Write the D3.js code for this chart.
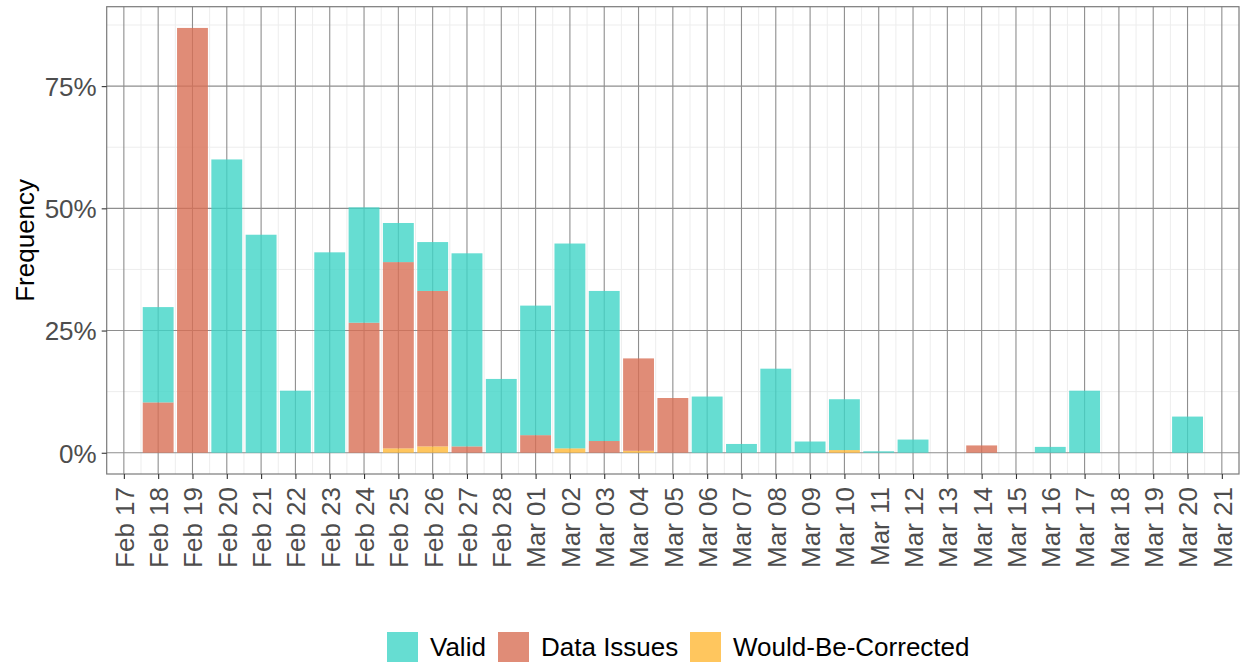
<!DOCTYPE html>
<html>
<head>
<meta charset="utf-8">
<script src="https://cdn.jsdelivr.net/npm/d3@7"></script>
<style>
  html, body { margin: 0; padding: 0; background: #fff; }
  svg { display: block; font-family: "Liberation Sans", Arial, Helvetica, sans-serif; }
</style>
</head>
<body>
<svg id="chart" width="1253" height="662"></svg>
<script>
// Daily share of records by status (percent), Feb 18 – Mar 20
const dates = [
  "2021-02-18","2021-02-19","2021-02-20","2021-02-21","2021-02-22","2021-02-23","2021-02-24",
  "2021-02-25","2021-02-26","2021-02-27","2021-02-28","2021-03-01","2021-03-02","2021-03-03",
  "2021-03-04","2021-03-05","2021-03-06","2021-03-07","2021-03-08","2021-03-09","2021-03-10",
  "2021-03-11","2021-03-12","2021-03-13","2021-03-14","2021-03-15","2021-03-16","2021-03-17",
  "2021-03-18","2021-03-19","2021-03-20"
];
const valid = [
  19.5, 0, 60.0, 44.6, 12.7, 41.0, 23.6,
  8.0, 10.0, 39.5, 15.1, 26.5, 41.9, 30.7,
  0, 0, 11.5, 1.8, 17.2, 2.3, 10.4,
  0.3, 2.7, 0, 0, 0, 1.2, 12.7,
  0, 0, 7.4
];
const dataIssues = [
  10.3, 86.9, 0, 0, 0, 0, 26.6,
  38.1, 31.8, 1.3, 0, 3.6, 0, 2.4,
  18.9, 11.2, 0, 0, 0, 0, 0,
  0, 0, 0, 1.5, 0, 0, 0,
  0, 0, 0
];
const wouldBeCorrected = [
  0, 0, 0, 0, 0, 0, 0,
  0.9, 1.3, 0, 0, 0, 0.9, 0,
  0.4, 0, 0, 0, 0, 0, 0.55,
  0, 0, 0, 0, 0, 0, 0,
  0, 0, 0
];
const seriesNames = ["Valid", "Data Issues", "Would-Be-Corrected"];
const seriesColors = ["#40d4c7", "#d86f55", "#ffb836"];
const yTicks = [0, 25, 50, 75];

const parse = d3.utcParse("%Y-%m-%d");
const rows = dates.map((d, i) => ({
  date: parse(d),
  "Valid": valid[i],
  "Data Issues": dataIssues[i],
  "Would-Be-Corrected": wouldBeCorrected[i]
}));

const svg = d3.select("#chart");
const panel = { left: 106.7, right: 1239, top: 6.7, bottom: 474 };

// x: one band per day, domain padded half a day around Feb 17 – Mar 21
const dayMs = 864e5;
const xStart = parse("2021-02-17"), xEnd = parse("2021-03-21");
const x = d3.scaleUtc()
  .domain([new Date(+xStart - dayMs / 2), new Date(+xEnd + dayMs / 2)])
  .range([panel.left, panel.right]);

// y: 5% expansion of the data range on both sides
const totals = rows.map(r => r["Valid"] + r["Data Issues"] + r["Would-Be-Corrected"]);
const yMax = d3.max(totals);
const pad = yMax * 0.05;
const y = d3.scaleLinear().domain([-pad, yMax + pad]).range([panel.bottom, panel.top]);

// grid
const grid = svg.append("g");
const days = d3.utcDay.range(xStart, new Date(+xEnd + 1));
const halfDays = days.slice(0, -1).map(d => new Date(+d + dayMs / 2));
const minorY = yTicks.map(t => t + 12.5);

grid.selectAll(".vminor").data(halfDays).join("line")
  .attr("x1", d => x(d)).attr("x2", d => x(d))
  .attr("y1", panel.top).attr("y2", panel.bottom)
  .attr("stroke", "#ededed").attr("stroke-width", 1);
grid.selectAll(".hminor").data(minorY).join("line")
  .attr("x1", panel.left).attr("x2", panel.right)
  .attr("y1", d => y(d)).attr("y2", d => y(d))
  .attr("stroke", "#ededed").attr("stroke-width", 1);
grid.selectAll(".vmajor").data(days).join("line")
  .attr("x1", d => x(d)).attr("x2", d => x(d))
  .attr("y1", panel.top).attr("y2", panel.bottom)
  .attr("stroke", "#8e8e8e").attr("stroke-width", 1.1);
grid.selectAll(".hmajor").data(yTicks).join("line")
  .attr("x1", panel.left).attr("x2", panel.right)
  .attr("y1", d => y(d)).attr("y2", d => y(d))
  .attr("stroke", "#8e8e8e").attr("stroke-width", 1.1);

// stacked bars: Would-Be-Corrected at the bottom, Valid on top
const stackKeys = ["Would-Be-Corrected", "Data Issues", "Valid"];
const stacked = d3.stack().keys(stackKeys)(rows);
const color = d3.scaleOrdinal().domain(seriesNames).range(seriesColors);
const barHalf = dayMs * 0.45;

svg.append("g").selectAll("g").data(stacked).join("g")
  .attr("fill", d => color(d.key))
  .attr("fill-opacity", 0.8)
  .selectAll("rect").data(d => d.filter(s => s[1] - s[0] > 0)).join("rect")
  .attr("x", d => x(new Date(+d.data.date - barHalf)))
  .attr("width", d => x(new Date(+d.data.date + barHalf)) - x(new Date(+d.data.date - barHalf)))
  .attr("y", d => y(d[1]))
  .attr("height", d => y(d[0]) - y(d[1]));

// panel border
svg.append("rect")
  .attr("x", panel.left).attr("y", panel.top)
  .attr("width", panel.right - panel.left).attr("height", panel.bottom - panel.top)
  .attr("fill", "none").attr("stroke", "#7a7a7a").attr("stroke-width", 1.2);

// y axis
const yAxis = svg.append("g")
  .attr("transform", `translate(${panel.left},0)`)
  .call(d3.axisLeft(y).tickValues(yTicks).tickFormat(d => d + "%").tickSize(5).tickPadding(5));
yAxis.select(".domain").remove();
yAxis.selectAll(".tick line").attr("stroke", "#333").attr("stroke-width", 1.1);
yAxis.selectAll(".tick text")
  .attr("fill", "#4d4d4d").style("font-size", "26px")
  .attr("dy", "0.36em");

// x axis
const xAxis = svg.append("g")
  .attr("transform", `translate(0,${panel.bottom})`)
  .call(d3.axisBottom(x).tickValues(days).tickFormat(d3.utcFormat("%b %d")).tickSize(5));
xAxis.select(".domain").remove();
xAxis.selectAll(".tick line").attr("stroke", "#333").attr("stroke-width", 1.1);
xAxis.selectAll(".tick text")
  .attr("fill", "#4d4d4d").style("font-size", "26px")
  .attr("text-anchor", "end")
  .attr("transform", "translate(0,13) rotate(-90)")
  .attr("x", 0).attr("y", 0)
  .attr("dy", "0.36em");

// y axis title
svg.append("text")
  .attr("transform", `translate(34,${(panel.top + panel.bottom) / 2}) rotate(-90)`)
  .attr("text-anchor", "middle")
  .attr("fill", "#000")
  .style("font-size", "26px")
  .text("Frequency");

// legend
const legend = svg.append("g");
const keyW = 31, keyH = 30, keyY = 632;
const legendX = [387, 498, 690];
seriesNames.forEach((name, i) => {
  const g = legend.append("g").attr("transform", `translate(${legendX[i]},${keyY})`);
  g.append("rect").attr("width", keyW).attr("height", keyH)
    .attr("fill", seriesColors[i]).attr("fill-opacity", 0.8);
  g.append("text").attr("x", keyW + 12).attr("y", keyH / 2).attr("dy", "0.36em")
    .attr("fill", "#000").style("font-size", "26px").text(name);
});
</script>
</body>
</html>
